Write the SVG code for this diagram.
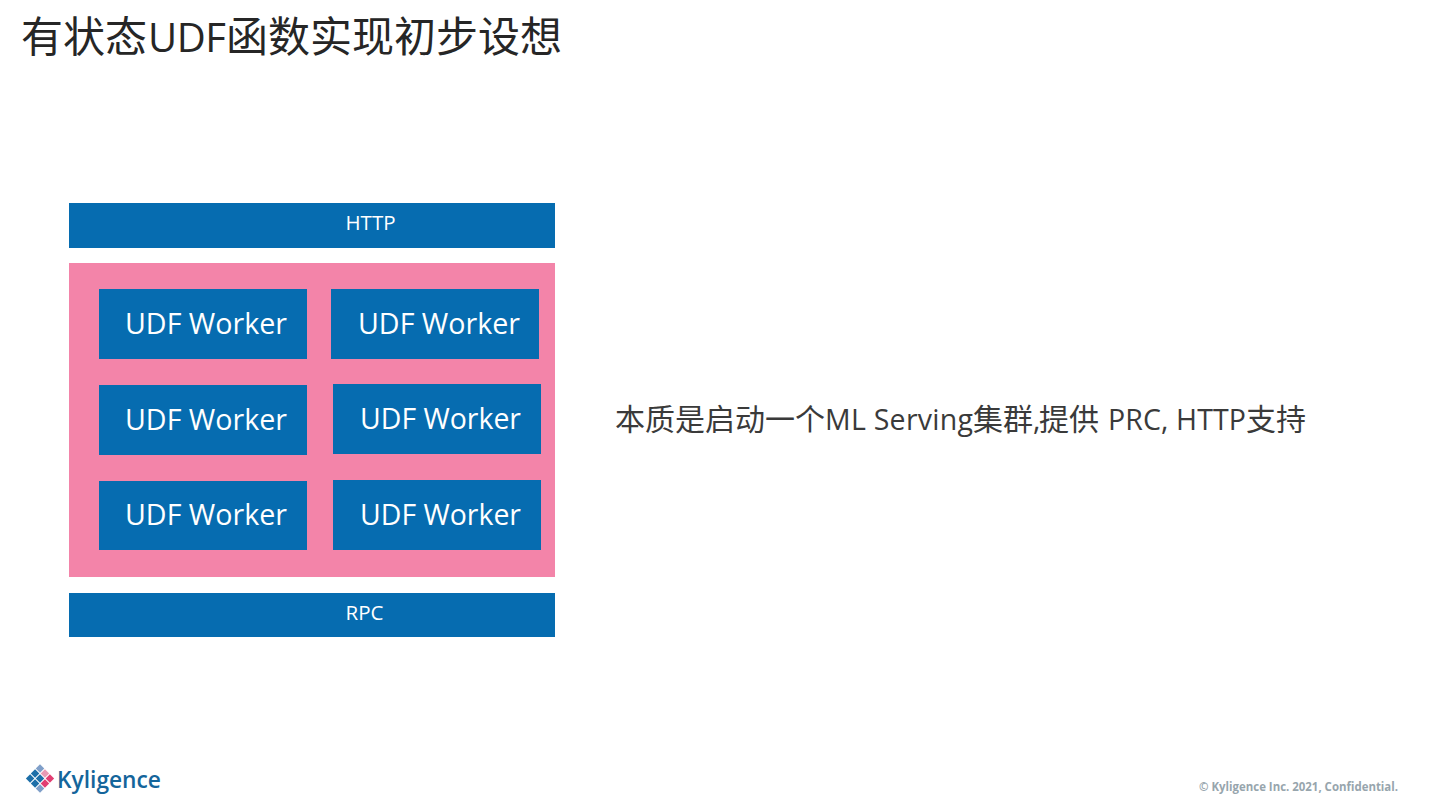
<svg xmlns="http://www.w3.org/2000/svg" width="1440" height="810" viewBox="0 0 1440 810">
<style>
text{font-family:"Open Sans","Noto Sans CJK SC",sans-serif}
.b{fill:#066cb0}
.w{fill:#fff;font-size:29px}
.s{fill:#fff;font-size:20.500px}
.d{width:6px;height:6px}
</style>
<rect width="1440" height="810" fill="#fff"/>
<text id="title" y="52" font-size="42" fill="#262626"><tspan x="21">有状态</tspan><tspan x="148" font-size="40" textLength="78">UDF</tspan><tspan x="226">函数实现初步设想</tspan></text>
<g id="http"><rect class="b" x="69" y="203" width="486" height="45"/><text class="s" x="345.500" y="229.500">HTTP</text></g>
<g id="cluster"><rect x="69" y="263" width="486" height="314" fill="#f384a9"/></g>
<g id="w1"><rect class="b" x="99" y="289" width="208" height="70"/><text class="w" x="125" y="334" textLength="162" lengthAdjust="spacingAndGlyphs">UDF Worker</text></g>
<g id="w2"><rect class="b" x="331" y="289" width="208" height="70"/><text class="w" x="358" y="334" textLength="162" lengthAdjust="spacingAndGlyphs">UDF Worker</text></g>
<g id="w3"><rect class="b" x="99" y="385" width="208" height="70"/><text class="w" x="125" y="430" textLength="162" lengthAdjust="spacingAndGlyphs">UDF Worker</text></g>
<g id="w4"><rect class="b" x="333" y="384" width="208" height="70"/><text class="w" x="360" y="429" textLength="161" lengthAdjust="spacingAndGlyphs">UDF Worker</text></g>
<g id="w5"><rect class="b" x="99" y="481" width="208" height="69"/><text class="w" x="125" y="525" textLength="162" lengthAdjust="spacingAndGlyphs">UDF Worker</text></g>
<g id="w6"><rect class="b" x="333" y="480" width="208" height="70"/><text class="w" x="360" y="525" textLength="161" lengthAdjust="spacingAndGlyphs">UDF Worker</text></g>
<g id="rpc"><rect class="b" x="69" y="593" width="486" height="44"/><text class="s" x="345.500" y="619.500">RPC</text></g>
<text id="note" y="430" font-size="30" fill="#3a3a3a"><tspan x="615">本质是启动一个</tspan><tspan x="825" font-size="28.500" textLength="148">ML Serving</tspan><tspan x="973">集群</tspan><tspan x="1033" font-size="28.500">,</tspan><tspan x="1039">提供</tspan><tspan x="1108" font-size="28.500" textLength="138">PRC, HTTP</tspan><tspan x="1246">支持</tspan></text>
<g id="logo">
<g transform="translate(40 778.500) rotate(45)">
<rect class="d" x="-10" y="-10" fill="#7f9fc9"/>
<rect class="d" x="-3" y="-10" fill="#e89ab4"/>
<rect class="d" x="4" y="-10" fill="#e23e72"/>
<rect class="d" x="-10" y="-3" fill="#1d6fa8"/>
<rect class="d" x="-3" y="-3" fill="#1d6fa8"/>
<rect class="d" x="4" y="-3" fill="#e23e72"/>
<rect class="d" x="-10" y="4" fill="#1d6fa8"/>
<rect class="d" x="-3" y="4" fill="#1d6fa8"/>
<rect class="d" x="4" y="4" fill="#7f9fc9"/>
</g>
<text x="57" y="788" font-size="23" font-weight="600" fill="#14659b" textLength="104" lengthAdjust="spacingAndGlyphs">Kyligence</text>
</g>
<text id="footer" x="1199" y="791" font-size="11.500" font-weight="700" fill="#97a5ad" textLength="199" lengthAdjust="spacingAndGlyphs">© Kyligence Inc. 2021, Confidential.</text>
</svg>
